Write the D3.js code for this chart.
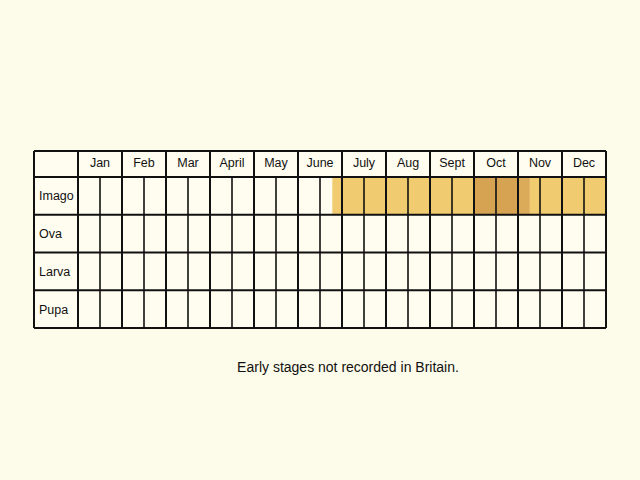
<!DOCTYPE html><html><head><script src="https://cdn.jsdelivr.net/npm/d3@7"></script>
<style>body{margin:0;background:#fdfbe9}</style></head><body><svg width="640" height="480"></svg><script>
const months=["Jan","Feb","Mar","April","May","June","July","Aug","Sept","Oct","Nov","Dec"];
const stages=["Imago","Ova","Larva","Pupa"];
// periods: [stage, startMonth, endMonth (fractional, 0=Jan start), level]
const periods=[["Imago",5.78,9,"light"],["Imago",9,10,"dark"],["Imago",10,10.27,"mid"],["Imago",10.27,12,"light"]];
const colors={light:"#f1cb6f",dark:"#d5a352",mid:"#dcab5a"};
const note="Early stages not recorded in Britain.";
const svg=d3.select("svg");
svg.append("rect").attr("width",640).attr("height",480).attr("fill","#fdfbe9");
const x=d3.scaleLinear().domain([0,12]).range([78,606]);
const yb=d3.scaleBand().domain(["hdr",...stages]).range([151,328]).paddingInner(0);
const rowY=s=>s==="hdr"?151:177+stages.indexOf(s)*37.75;
const rowH=s=>s==="hdr"?26:37.75;
svg.append("rect").attr("x",34).attr("y",151).attr("width",572).attr("height",177).attr("fill","#fffdf0");
svg.selectAll(".p").data(periods).join("rect").attr("x",d=>x(d[1])).attr("width",d=>x(d[2])-x(d[1]))
 .attr("y",d=>rowY(d[0])).attr("height",d=>rowH(d[0])).attr("fill",d=>colors[d[3]]);
const g=svg.append("g").attr("stroke","#111").attr("fill","none");
// horizontal lines
["hdr",...stages].forEach(s=>g.append("line").attr("x1",34).attr("x2",606).attr("y1",rowY(s)).attr("y2",rowY(s)).attr("stroke-width",2));
g.append("line").attr("x1",34).attr("x2",606).attr("y1",328).attr("y2",328).attr("stroke-width",2);
g.append("line").attr("x1",34).attr("x2",34).attr("y1",151).attr("y2",328).attr("stroke-width",2);
d3.range(0,13).forEach(m=>g.append("line").attr("x1",x(m)).attr("x2",x(m)).attr("y1",151).attr("y2",328).attr("stroke-width",2));
d3.range(0,12).forEach(m=>g.append("line").attr("x1",x(m+0.5)).attr("x2",x(m+0.5)).attr("y1",177).attr("y2",328).attr("stroke-width",1.6));
svg.selectAll(".m").data(months).join("text").attr("x",(d,i)=>x(i+0.5)).attr("y",167).attr("text-anchor","middle")
 .attr("font-family","Liberation Sans, Arial").attr("font-size",12.5).attr("fill","#111").text(d=>d);
svg.selectAll(".s").data(stages).join("text").attr("x",39).attr("y",s=>rowY(s)+rowH(s)/2+4.5)
 .attr("font-family","Liberation Sans, Arial").attr("font-size",12.5).attr("fill","#111").text(d=>d);
svg.append("text").attr("x",348).attr("y",372).attr("text-anchor","middle").attr("font-family","Liberation Sans, Arial")
 .attr("font-size",14).attr("fill","#111").text(note);
</script></body></html>
